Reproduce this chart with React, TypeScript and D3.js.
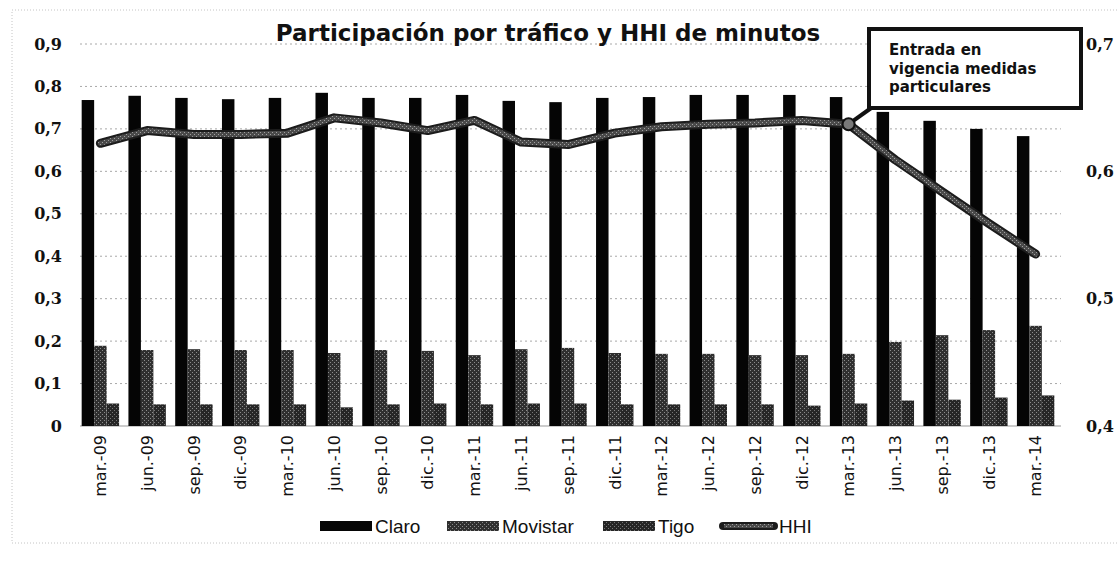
import React, { useEffect, useRef } from 'react';
import * as d3 from 'd3';

const categories = [
  'mar.-09', 'jun.-09', 'sep.-09', 'dic.-09', 'mar.-10', 'jun.-10', 'sep.-10',
  'dic.-10', 'mar.-11', 'jun.-11', 'sep.-11', 'dic.-11', 'mar.-12', 'jun.-12',
  'sep.-12', 'dic.-12', 'mar.-13', 'jun.-13', 'sep.-13', 'dic.-13', 'mar.-14'
];
const claro = [0.768, 0.778, 0.773, 0.770, 0.773, 0.785, 0.773, 0.773, 0.780, 0.766, 0.763,
  0.773, 0.775, 0.780, 0.780, 0.780, 0.775, 0.740, 0.719, 0.700, 0.683];
const movistar = [0.189, 0.179, 0.181, 0.179, 0.179, 0.172, 0.179, 0.177, 0.167, 0.181, 0.184,
  0.172, 0.170, 0.170, 0.167, 0.167, 0.170, 0.198, 0.214, 0.226, 0.236];
const tigo = [0.053, 0.051, 0.051, 0.051, 0.051, 0.044, 0.051, 0.053, 0.051, 0.053, 0.053,
  0.051, 0.051, 0.051, 0.051, 0.048, 0.053, 0.060, 0.062, 0.067, 0.072];
const hhi = [0.622, 0.632, 0.629, 0.629, 0.630, 0.642, 0.638, 0.632, 0.640, 0.623, 0.621,
  0.630, 0.635, 0.637, 0.638, 0.640, 0.637, 0.609, 0.584, 0.559, 0.535];

const leftTicks = [0, 0.1, 0.2, 0.3, 0.4, 0.5, 0.6, 0.7, 0.8, 0.9];
const rightTicks = [0.4, 0.5, 0.6, 0.7];
const barSeries = ['Claro', 'Movistar', 'Tigo'];
const title = 'Participación por tráfico y HHI de minutos';
const noteLines = ['Entrada en', 'vigencia medidas', 'particulares'];
const noteCategory = 'mar.-13';

const App = () => {
  const svgRef = useRef<SVGSVGElement>(null);

  useEffect(() => {
    const svg = d3.select(svgRef.current);
    svg.selectAll('*').remove();

    const plot = { left: 77, right: 1059, top: 44, bottom: 426 };

    const x = d3
      .scaleBand()
      .domain(categories)
      .range([plot.left, plot.right])
      .paddingInner(0.2)
      .paddingOuter(0.1);
    const sub = d3.scaleBand().domain(barSeries).range([0, x.bandwidth()]);
    const y = d3.scaleLinear().domain([0, 0.9]).range([plot.bottom, plot.top]);
    const y2 = d3.scaleLinear().domain([0.4, 0.7]).range([plot.bottom, plot.top]);
    const fmt = (v: number) => (v === 0 ? '0' : d3.format('.1f')(v).replace('.', ','));

    // textured fills (scanned look)
    const defs = svg.append('defs');
    const addPattern = (id: string, base: string, dot: string) => {
      const p = defs
        .append('pattern')
        .attr('id', id)
        .attr('patternUnits', 'userSpaceOnUse')
        .attr('width', 4)
        .attr('height', 4);
      p.append('rect').attr('width', 4).attr('height', 4).attr('fill', base);
      p.append('rect').attr('x', 0).attr('y', 0).attr('width', 1).attr('height', 1).attr('fill', dot);
      p.append('rect').attr('x', 2).attr('y', 2).attr('width', 1).attr('height', 1).attr('fill', dot);
    };
    addPattern('pat-mov', '#2f2f2f', '#8c8c8c');
    addPattern('pat-tigo', '#262626', '#777777');
    addPattern('pat-hhi', '#4a4a4a', '#a0a0a0');
    const fills: Record<string, string> = {
      Claro: '#050505',
      Movistar: 'url(#pat-mov)',
      Tigo: 'url(#pat-tigo)'
    };

    // outer chart border (left, top, bottom only)
    svg
      .append('path')
      .attr('d', 'M1117,10H12V543H1117')
      .attr('fill', 'none')
      .attr('stroke', '#c4c4c4')
      .attr('stroke-dasharray', '1,2');

    // gridlines
    svg
      .append('g')
      .selectAll('line')
      .data(leftTicks)
      .join('line')
      .attr('x1', plot.left + 3)
      .attr('x2', plot.right + 2)
      .attr('y1', (d) => y(d))
      .attr('y2', (d) => y(d))
      .attr('stroke', (d) => (d === 0 ? '#999' : '#a8a8a8'))
      .attr('stroke-dasharray', (d) => (d === 0 ? null : '2,3'));

    // bars
    const values: Record<string, number[]> = { Claro: claro, Movistar: movistar, Tigo: tigo };
    barSeries.forEach((s) => {
      svg
        .append('g')
        .selectAll('rect')
        .data(categories)
        .join('rect')
        .attr('x', (c) => (x(c) as number) + (sub(s) as number))
        .attr('width', sub.bandwidth())
        .attr('y', (c, i) => y(values[s][i]))
        .attr('height', (c, i) => y(0) - y(values[s][i]))
        .attr('fill', fills[s]);
    });

    // HHI line
    const cx = (c: string) => (x(c) as number) + x.bandwidth() / 2;
    const line = d3
      .line<number>()
      .x((d, i) => cx(categories[i]))
      .y((d) => y2(d));
    svg
      .append('path')
      .datum(hhi)
      .attr('d', line)
      .attr('fill', 'none')
      .attr('stroke', '#1c1c1c')
      .attr('stroke-width', 9)
      .attr('stroke-linejoin', 'round')
      .attr('stroke-linecap', 'round');
    svg
      .append('path')
      .datum(hhi)
      .attr('d', line)
      .attr('fill', 'none')
      .attr('stroke', 'url(#pat-hhi)')
      .attr('stroke-width', 5)
      .attr('stroke-linejoin', 'round')
      .attr('stroke-linecap', 'round');

    // left axis labels
    svg
      .append('g')
      .selectAll('text')
      .data(leftTicks)
      .join('text')
      .attr('x', 62)
      .attr('y', (d) => y(d))
      .attr('dy', '0.35em')
      .attr('text-anchor', 'end')
      .attr('font-family', '"DejaVu Serif", serif')
      .attr('font-weight', 'bold')
      .attr('font-size', 16)
      .attr('fill', '#111')
      .text(fmt);

    // right axis labels
    svg
      .append('g')
      .selectAll('text')
      .data(rightTicks)
      .join('text')
      .attr('x', 1086)
      .attr('y', (d) => y2(d))
      .attr('dy', '0.35em')
      .attr('font-family', '"DejaVu Serif", serif')
      .attr('font-weight', 'bold')
      .attr('font-size', 16)
      .attr('fill', '#111')
      .text(fmt);

    // category labels
    svg
      .append('g')
      .selectAll('text')
      .data(categories)
      .join('text')
      .attr('transform', (c) => `translate(${cx(c)},${plot.bottom + 9}) rotate(-90)`)
      .attr('dy', '0.36em')
      .attr('text-anchor', 'end')
      .attr('font-family', '"DejaVu Sans", sans-serif')
      .attr('font-size', 16)
      .attr('fill', '#111')
      .text((c) => c);

    // title
    svg
      .append('text')
      .attr('x', 548)
      .attr('y', 41)
      .attr('text-anchor', 'middle')
      .attr('font-family', '"DejaVu Sans", sans-serif')
      .attr('font-weight', 'bold')
      .attr('font-size', 23)
      .attr('fill', '#111')
      .text(title);

    // annotation
    const mi = categories.indexOf(noteCategory);
    const mx = cx(noteCategory);
    const my = y2(hhi[mi]);
    svg
      .append('line')
      .attr('x1', 874)
      .attr('y1', 106)
      .attr('x2', mx)
      .attr('y2', my)
      .attr('stroke', '#111')
      .attr('stroke-width', 4);
    svg
      .append('circle')
      .attr('cx', mx)
      .attr('cy', my)
      .attr('r', 6)
      .attr('fill', '#7a7a7a')
      .attr('stroke', '#111')
      .attr('stroke-width', 2);
    svg
      .append('rect')
      .attr('x', 869)
      .attr('y', 29)
      .attr('width', 212)
      .attr('height', 79)
      .attr('fill', '#fff')
      .attr('stroke', '#111')
      .attr('stroke-width', 4);
    svg
      .append('g')
      .selectAll('text')
      .data(noteLines)
      .join('text')
      .attr('x', 889)
      .attr('y', (d, i) => 55 + i * 18.5)
      .attr('font-family', '"DejaVu Sans", sans-serif')
      .attr('font-weight', 'bold')
      .attr('font-size', 15)
      .attr('fill', '#111')
      .text((d) => d);

    // legend
    const legend = [
      { name: 'Claro', x: 320, fill: fills.Claro },
      { name: 'Movistar', x: 447, fill: fills.Movistar },
      { name: 'Tigo', x: 603, fill: fills.Tigo },
      { name: 'HHI', x: 720, fill: null }
    ];
    const lg = svg.append('g');
    legend.forEach((l) => {
      if (l.fill) {
        lg.append('rect')
          .attr('x', l.x)
          .attr('y', 521)
          .attr('width', 52)
          .attr('height', 10)
          .attr('fill', l.fill);
      } else {
        lg.append('line')
          .attr('x1', l.x + 3)
          .attr('x2', l.x + 54)
          .attr('y1', 526)
          .attr('y2', 526)
          .attr('stroke', '#1c1c1c')
          .attr('stroke-width', 8)
          .attr('stroke-linecap', 'round');
        lg.append('line')
          .attr('x1', l.x + 4)
          .attr('x2', l.x + 53)
          .attr('y1', 526)
          .attr('y2', 526)
          .attr('stroke', 'url(#pat-hhi)')
          .attr('stroke-width', 4);
      }
      lg.append('text')
        .attr('x', l.fill ? l.x + 55 : l.x + 59)
        .attr('y', 526)
        .attr('dy', '0.35em')
        .attr('font-family', '"Liberation Sans", Arial, sans-serif')
        .attr('font-size', 19)
        .attr('fill', '#111')
        .text(l.name);
    });
  }, []);

  return (
    <svg
      ref={svgRef}
      width={1120}
      height={562}
      style={{ position: 'absolute', left: 0, top: 0, background: '#fff' }}
    ></svg>
  );
};

export default App;
